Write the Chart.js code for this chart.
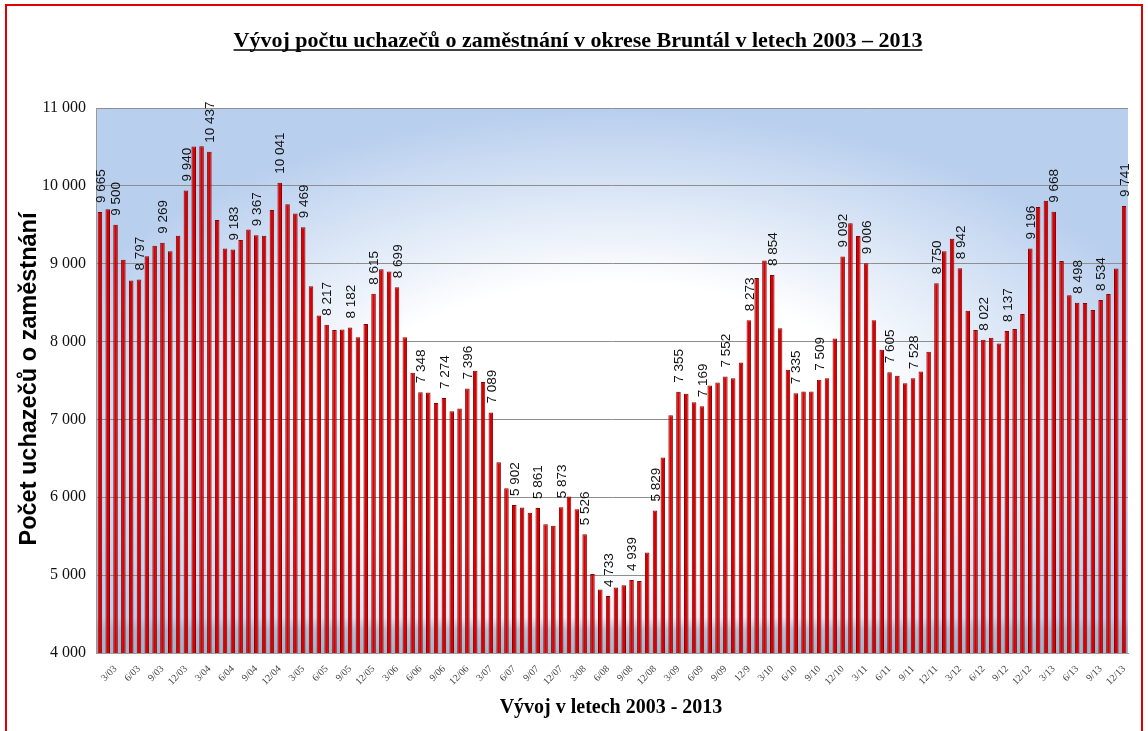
<!DOCTYPE html>
<html>
<head>
<meta charset="utf-8">
<script src="https://cdn.jsdelivr.net/npm/chart.js@4.4.1/dist/chart.umd.min.js"></script>
<style>
    html, body { margin: 0; padding: 0; background: #fff; }
    canvas { display: block; }
</style>
</head>
<body>
<canvas id="myChart" width="1148" height="731"></canvas>
<script>
// Počet uchazečů o zaměstnání, měsíčně 1/03 – 12/13 (po řádcích = roky)
const counts = [
    9665, 9700, 9500, 9050, 8785, 8797, 9095, 9230, 9269, 9160, 9360, 9940,       // 2003
    10505, 10510, 10437, 9560, 9195, 9183, 9305, 9440, 9367, 9360, 9690, 10041,   // 2004
    9765, 9645, 9469, 8710, 8335, 8217, 8150, 8155, 8182, 8055, 8225, 8615,       // 2005
    8930, 8900, 8699, 8055, 7600, 7348, 7345, 7210, 7274, 7105, 7140, 7396,       // 2006
    7625, 7480, 7089, 6450, 6115, 5902, 5870, 5800, 5861, 5655, 5635, 5873,       // 2007
    6010, 5845, 5526, 5015, 4815, 4733, 4840, 4870, 4939, 4925, 5290, 5829,       // 2008
    6510, 7055, 7355, 7330, 7220, 7169, 7435, 7475, 7552, 7530, 7730, 8273,       // 2009
    8815, 9040, 8854, 8170, 7638, 7335, 7360, 7360, 7509, 7530, 8040, 9092,       // 2010
    9520, 9355, 9006, 8275, 7895, 7605, 7560, 7465, 7528, 7615, 7870, 8750,       // 2011
    9160, 9320, 8942, 8395, 8150, 8022, 8050, 7975, 8137, 8160, 8355, 9196,       // 2012
    9730, 9808, 9668, 9035, 8595, 8498, 8497, 8405, 8534, 8610, 8937, 9741        // 2013
];

const years = ['03', '04', '05', '06', '07', '08', '09', '10', '11', '12', '13'];

// popisky osy X (každý třetí měsíc), tak jak jsou v originále
const tickLabels = [
    '3/03', '6/03', '9/03', '12/03', '3/04', '6/04', '9/04', '12/04',
    '3/05', '6/05', '9/05', '12/05', '3/06', '6/06', '9/06', '12/06',
    '3/07', '6/07', '9/07', '12/07', '3/08', '6/08', '9/08', '12/08',
    '3/09', '6/09', '9/09', '12/9', '3/10', '6/10', '9/10', '12/10',
    '3/11', '6/11', '9/11', '12/11', '3/12', '6/12', '9/12', '12/12',
    '3/13', '6/13', '9/13', '12/13'
];

const categories = [];
years.forEach(y => {
    for (let m = 1; m <= 12; m++) categories.push(m + '/' + y);
});

const fmt = v => String(v).replace(/\B(?=(\d{3})+(?!\d))/g, ' ');

// pozadí grafu - bílý střed, modré okraje
const plotBackground = {
    id: 'plotBackground',
    beforeDraw(chart) {
        const {ctx, chartArea: a} = chart;
        const w = a.right - a.left, h = a.bottom - a.top;
        ctx.save();
        ctx.beginPath();
        ctx.rect(a.left, a.top, w, h);
        ctx.clip();
        ctx.save();
        ctx.translate(a.left + w / 2, a.top + h * 0.58);
        ctx.scale(w / 2, h / 2);
        const g = ctx.createRadialGradient(0, 0, 0, 0, 0, 1.15);
        g.addColorStop(0, '#ffffff');
        g.addColorStop(0.45, '#ffffff');
        g.addColorStop(1, '#b9cfee');
        ctx.fillStyle = g;
        ctx.fillRect(-3, -3, 6, 6);
        ctx.restore();
        // šedivý pruh dole
        const b = ctx.createLinearGradient(0, a.bottom - 36, 0, a.bottom);
        b.addColorStop(0, 'rgba(160, 172, 195, 0)');
        b.addColorStop(0.35, 'rgba(160, 172, 195, 0.65)');
        b.addColorStop(1, 'rgba(160, 172, 195, 0.85)');
        ctx.fillStyle = b;
        ctx.fillRect(a.left, a.bottom - 36, w, 36);
        ctx.restore();
    }
};

// hodnoty nad sloupci (svisle)
const barLabels = {
    id: 'barLabels',
    afterDatasetsDraw(chart) {
        const {ctx} = chart;
        ctx.save();
        ctx.font = '13.5px "Liberation Sans", Arial, sans-serif';
        ctx.fillStyle = '#111';
        ctx.textAlign = 'left';
        ctx.textBaseline = 'middle';
        chart.getDatasetMeta(0).data.forEach((bar, i) => {
            if (i !== 0 && (i + 1) % 3 !== 0) return;
            ctx.save();
            ctx.translate(bar.x + 1, bar.y - 9);
            ctx.rotate(-Math.PI / 2);
            ctx.fillText(fmt(counts[i]), 0, 0);
            ctx.restore();
        });
        ctx.restore();
    }
};

// nadpisy + červený rámeček
const titles = {
    id: 'titles',
    afterDraw(chart) {
        const {ctx} = chart;
        ctx.save();
        ctx.fillStyle = '#000';
        ctx.strokeStyle = '#000';

        const t = 'Vývoj počtu uchazečů o zaměstnání v okrese Bruntál v letech 2003 – 2013';
        ctx.font = 'bold 22px "Liberation Serif", "Times New Roman", serif';
        ctx.textAlign = 'center';
        ctx.textBaseline = 'alphabetic';
        ctx.fillText(t, 578, 47);
        const tw = ctx.measureText(t).width;
        ctx.lineWidth = 1.5;
        ctx.beginPath();
        ctx.moveTo(578 - tw / 2, 50);
        ctx.lineTo(578 + tw / 2, 50);
        ctx.stroke();

        ctx.font = 'bold 20px "Liberation Serif", "Times New Roman", serif';
        ctx.fillText('Vývoj v letech 2003 - 2013', 611, 713);

        ctx.save();
        ctx.translate(30, 379);
        ctx.rotate(-Math.PI / 2);
        ctx.font = 'bold 23.5px "Liberation Sans", Arial, sans-serif';
        ctx.textBaseline = 'middle';
        ctx.fillText('Počet uchazečů o zaměstnání', 0, 0);
        ctx.restore();

        ctx.strokeStyle = '#e00000';
        ctx.lineWidth = 2;
        ctx.strokeRect(6, 5, 1136, 800);
        ctx.restore();
    }
};

const ctx = document.getElementById('myChart').getContext('2d');

const myChart = new Chart(ctx, {
    type: 'bar',
    data: {
        labels: categories,
        datasets: [{
            data: counts,
            backgroundColor: '#d80000',
            borderColor: '#8c0000',
            borderWidth: 1,
            barPercentage: 0.58,
            categoryPercentage: 1
        }]
    },
    options: {
        responsive: false,
        animation: false,
        layout: {
            padding: { top: 108, right: 20, left: 0, bottom: 0 }
        },
        plugins: {
            legend: { display: false },
            tooltip: { enabled: false }
        },
        scales: {
            x: {
                offset: true,
                grid: { display: false },
                border: { display: true, color: '#9a9a9a' },
                ticks: {
                    autoSkip: false,
                    minRotation: 45,
                    maxRotation: 45,
                    padding: 2,
                    color: '#444',
                    font: { family: '"Liberation Serif", "Times New Roman", serif', size: 10 },
                    callback: (v, i) => (i + 1) % 3 === 0 ? tickLabels[(i + 1) / 3 - 1] : ''
                },
                afterFit: s => { s.height = 78; }
            },
            y: {
                min: 4000,
                max: 11000,
                grid: { color: '#8e8e8e', drawTicks: false },
                border: { color: '#9a9a9a' },
                ticks: {
                    stepSize: 1000,
                    padding: 10,
                    color: '#111',
                    font: { family: '"Liberation Serif", "Times New Roman", serif', size: 16 },
                    callback: v => fmt(v)
                },
                afterFit: s => { s.width = 96; }
            }
        }
    },
    plugins: [plotBackground, barLabels, titles]
});
</script>
</body>
</html>
